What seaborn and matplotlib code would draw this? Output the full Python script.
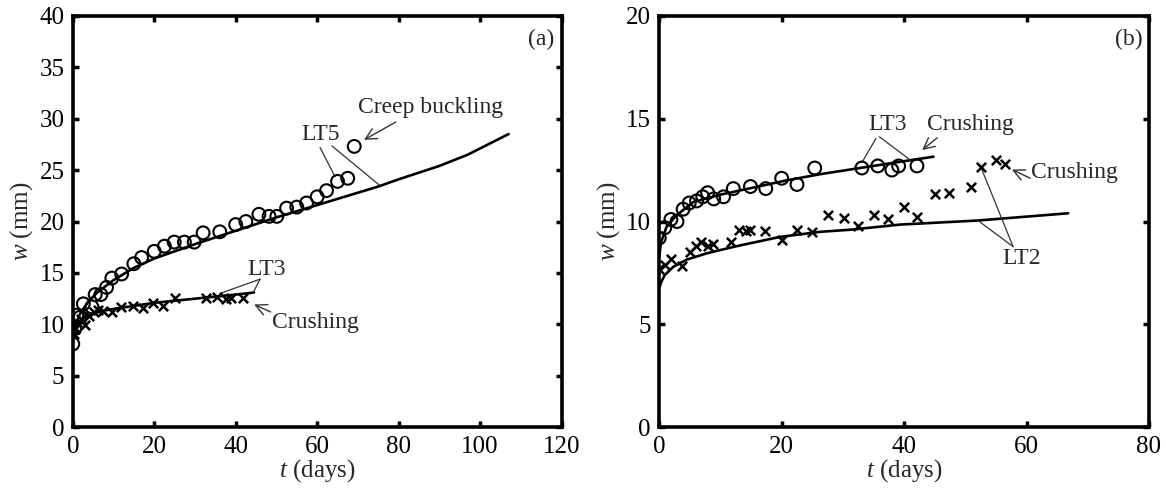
import numpy as np
import pandas as pd
import matplotlib
matplotlib.use("Agg")
import matplotlib.pyplot as plt
import seaborn as sns

# ---------------- data: panel (a) ----------------
a_lt5_t = [0.0, 0.5, 1.0, 1.8, 2.6, 4.7, 5.5, 6.9, 8.3, 9.6, 12.0, 15.0, 16.9, 20.0, 22.5, 24.9,
           27.4, 29.8, 32.0, 36.1, 40.0, 42.5, 45.7, 48.2, 50.1, 52.5, 55.0, 57.4, 60.0, 62.3,
           65.0, 67.5, 69.1]
a_lt5_w = [8.1, 9.6, 10.9, 10.7, 12.0, 11.7, 12.9, 12.9, 13.6, 14.5, 14.9, 15.9, 16.5, 17.1, 17.6,
           18.0, 18.0, 18.0, 18.9, 19.0, 19.7, 20.0, 20.7, 20.5, 20.5, 21.3, 21.4, 21.8, 22.4,
           23.0, 23.9, 24.2, 27.3]
a_lt5_fit_t = [0, 0.5, 1, 2, 4, 6, 10, 15, 20, 25, 30, 40, 50, 60, 70, 75, 80, 90, 97, 107]
a_lt5_fit_w = [8.8, 9.7, 10.3, 11.2, 12.3, 13.1, 14.3, 15.5, 16.4, 17.1, 17.8, 19.1, 20.4, 21.6,
               22.8, 23.4, 24.1, 25.4, 26.5, 28.5]

a_lt3_t = [0.2, 0.5, 1.4, 2.0, 3.0, 4.0, 5.1, 6.3, 7.5, 9.6, 11.8, 14.7, 17.2, 19.8, 22.2, 25.1,
           32.6, 35.3, 37.6, 38.8, 41.9]
a_lt3_w = [9.1, 9.6, 10.1, 10.5, 9.9, 10.8, 11.2, 11.4, 11.3, 11.2, 11.7, 11.8, 11.6, 12.1, 11.8,
           12.6, 12.6, 12.7, 12.5, 12.6, 12.6]
a_lt3_fit_t = [0, 0.5, 1, 2, 4, 7, 10, 15, 20, 25, 30, 35, 40, 44.5]
a_lt3_fit_w = [8.8, 9.6, 10.0, 10.4, 10.9, 11.3, 11.5, 11.8, 12.1, 12.3, 12.5, 12.7, 12.9, 13.1]

# ---------------- data: panel (b) ----------------
b_lt3_t = [0.0, 0.9, 1.9, 2.9, 3.9, 4.9, 6.1, 7.1, 7.9, 8.9, 10.5, 12.1, 14.9, 17.4, 20.0, 22.5,
           25.4, 33.1, 35.7, 38.0, 39.1, 42.1]
b_lt3_w = [9.2, 9.7, 10.1, 10.0, 10.6, 10.9, 11.0, 11.2, 11.4, 11.1, 11.2, 11.6, 11.7, 11.6, 12.1,
           11.8, 12.6, 12.6, 12.7, 12.5, 12.7, 12.7]
b_lt3_fit_t = [0, 0.3, 1.2, 2.8, 5.6, 9.9, 15.4, 20.8, 26.3, 32.8, 39.3, 44.8]
b_lt3_fit_w = [8.3, 9.0, 9.75, 10.3, 10.95, 11.3, 11.65, 12.0, 12.3, 12.6, 12.9, 13.15]

b_lt2_t = [0.0, 0.9, 2.0, 3.7, 5.0, 6.0, 6.9, 8.0, 8.8, 11.8, 13.0, 14.2, 14.9, 17.3, 20.0, 22.5,
           24.9, 27.5, 30.2, 32.4, 35.0, 37.4, 40.0, 42.1, 45.0, 47.3, 50.9, 52.5, 55.0, 56.4]
b_lt2_w = [7.7, 7.9, 8.2, 7.85, 8.5, 8.8, 9.0, 8.8, 8.9, 9.0, 9.6, 9.55, 9.6, 9.55, 9.1, 9.6,
           9.5, 10.3, 10.15, 9.8, 10.3, 10.1, 10.7, 10.2, 11.35, 11.4, 11.7, 12.65, 13.0, 12.8]
b_lt2_fit_t = [0, 0.3, 0.9, 2.3, 4.5, 7.7, 12.6, 19.7, 26.3, 31.2, 39.3, 52.1, 66.8]
b_lt2_fit_w = [6.75, 7.05, 7.4, 7.8, 8.15, 8.45, 8.8, 9.25, 9.5, 9.6, 9.85, 10.05, 10.4]

a_xticks = [0, 20, 40, 60, 80, 100, 120]
a_yticks = [0, 5, 10, 15, 20, 25, 30, 35, 40]
b_xticks = [0, 20, 40, 60, 80]
b_yticks = [0, 5, 10, 15, 20]

# ---------------- style ----------------
sns.set_theme(style="white")
plt.rcParams["font.family"] = ["Liberation Serif", "DejaVu Serif"]
plt.rcParams["mathtext.fontset"] = "custom"
plt.rcParams["mathtext.rm"] = "Liberation Serif"
plt.rcParams["mathtext.it"] = "Liberation Serif:italic"
FS = 17
FST = 18

fig = plt.figure(figsize=(11.66, 4.91), dpi=100)
axA = fig.add_axes([0.0624, 0.1297, 0.4192, 0.8383])
axB = fig.add_axes([0.5654, 0.1297, 0.4200, 0.8383])

LW = 1.9
MS_O = 85
MS_X = 45


def draw_series(ax, t, w, ft, fw, marker):
    sns.lineplot(x=ft, y=fw, ax=ax, color="black", lw=LW, estimator=None, sort=False)
    if marker == "o":
        sns.scatterplot(x=t, y=w, ax=ax, marker="o", s=MS_O, facecolor="none",
                        edgecolor="black", linewidth=1.5, zorder=3)
    else:
        sns.scatterplot(x=t, y=w, ax=ax, marker="x", s=MS_X, color="black",
                        linewidth=1.8, zorder=3)


draw_series(axA, a_lt5_t, a_lt5_w, a_lt5_fit_t, a_lt5_fit_w, "o")
draw_series(axA, a_lt3_t, a_lt3_w, a_lt3_fit_t, a_lt3_fit_w, "x")
draw_series(axB, b_lt3_t, b_lt3_w, b_lt3_fit_t, b_lt3_fit_w, "o")
draw_series(axB, b_lt2_t, b_lt2_w, b_lt2_fit_t, b_lt2_fit_w, "x")

for ax, xt, yt, tag in [(axA, a_xticks, a_yticks, "(a)"), (axB, b_xticks, b_yticks, "(b)")]:
    ax.set_xlim(xt[0], xt[-1])
    ax.set_ylim(yt[0], yt[-1])
    ax.set_xticks(xt)
    ax.set_yticks(yt)
    ax.tick_params(direction="in", length=4, width=2.5, labelsize=FST, pad=6,
                   top=True, right=True, bottom=True, left=True, colors="black")
    for s in ax.spines.values():
        s.set_visible(True)
        s.set_linewidth(2.6)
        s.set_color("black")
    ax.set_xlabel(r"$\it{t}$ (days)", fontsize=FST, labelpad=0)
    ax.set_ylabel(r"$\it{w}$ (mm)", fontsize=FST, labelpad=3)
    ax.text(0.958, 0.942, tag, transform=ax.transAxes, ha="center", va="center", fontsize=FS)
    ax.grid(False)

thin = dict(color="#333333", lw=0.9)
arrow = dict(arrowstyle="->", color="#333333", lw=1.0, mutation_scale=20)

# panel (a) annotations
axA.text(87.9, 31.1, "Creep buckling", ha="center", va="center", fontsize=FS)
axA.annotate("", xy=(70.9, 27.8), xytext=(79.9, 29.8), arrowprops=arrow)
axA.text(60.9, 28.5, "LT5", ha="center", va="center", fontsize=FS)
axA.plot([60.7, 64.4], [27.2, 24.35], **thin)
axA.plot([63.6, 75.4], [27.35, 23.5], **thin)
axA.text(47.7, 15.3, "LT3", ha="center", va="center", fontsize=FS)
axA.plot([46.0, 36.1], [14.4, 13.0], **thin)
axA.plot([46.0, 44.3], [14.4, 13.1], **thin)
axA.text(59.5, 10.2, "Crushing", ha="center", va="center", fontsize=FS)
axA.annotate("", xy=(43.9, 12.05), xytext=(49.2, 11.1), arrowprops=arrow)

# panel (b) annotations
axB.text(37.3, 14.73, "LT3", ha="center", va="center", fontsize=FS)
axB.plot([35.4, 33.1], [14.04, 12.86], **thin)
axB.plot([35.95, 41.0], [14.12, 12.99], **thin)
axB.text(50.9, 14.73, "Crushing", ha="center", va="center", fontsize=FS)
axB.annotate("", xy=(42.6, 13.39), xytext=(45.75, 14.15), arrowprops=arrow)
axB.text(67.9, 12.38, "Crushing", ha="center", va="center", fontsize=FS)
axB.annotate("", xy=(57.2, 12.58), xytext=(61.0, 12.05), arrowprops=arrow)
axB.text(59.2, 8.21, "LT2", ha="center", va="center", fontsize=FS)
axB.plot([57.8, 52.6], [8.78, 12.6], **thin)
axB.plot([57.8, 52.1], [8.78, 10.04], **thin)

fig.savefig("out.png", dpi=100)
